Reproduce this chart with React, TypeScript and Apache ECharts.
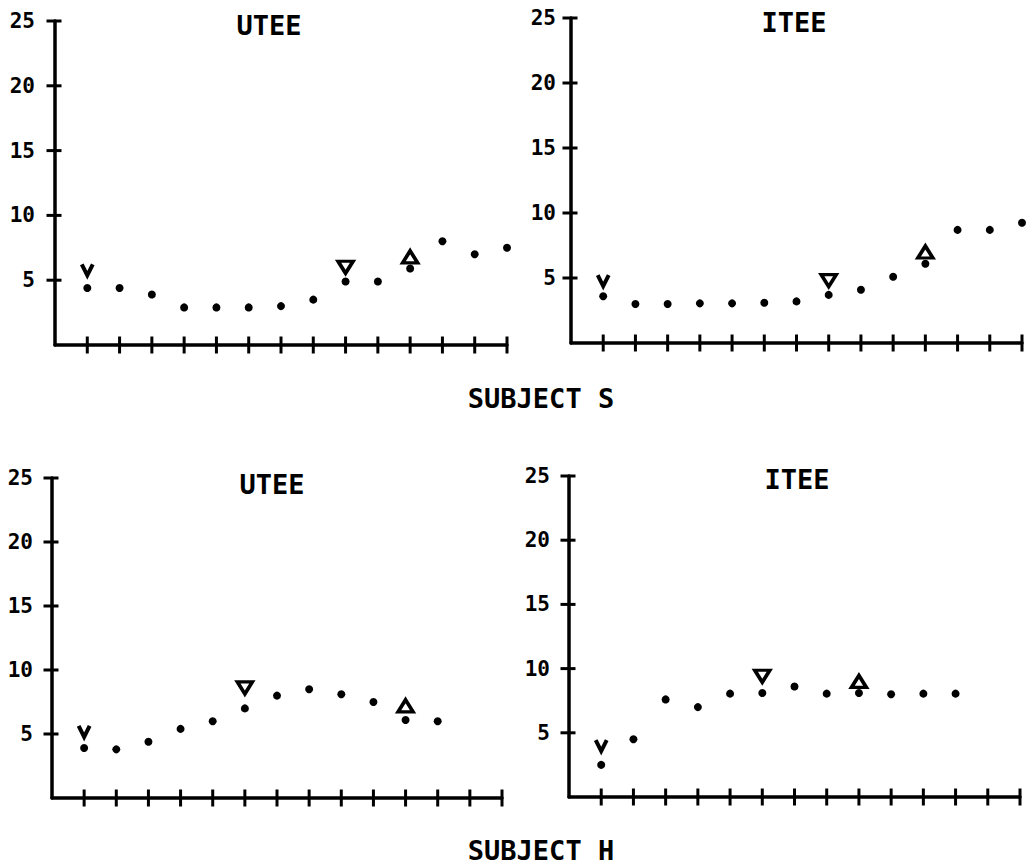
import { useEffect, useRef } from 'react';
import * as echarts from 'echarts';

// ---- data ----
const trialTicks = [1, 2, 3, 4, 5, 6, 7, 8, 9, 10, 11, 12, 13, 14];
const yTickValues = [5, 10, 15, 20, 25];
const panelTitles = ['UTEE', 'ITEE', 'UTEE', 'ITEE'];
const subjectLabels = ['SUBJECT S', 'SUBJECT H'];

// Subject S
const sUteeDots = [4.4, 4.4, 3.9, 2.9, 2.9, 2.9, 3.0, 3.5, 4.9, 4.9, 5.9, 8.0, 7.0, 7.5];
const sUteeV = [[1, 5.8]];
const sUteeDown = [[9, 6.0]];
const sUteeUp = [[11, 6.8]];

const sIteeDots = [3.6, 3.0, 3.0, 3.05, 3.05, 3.1, 3.2, 3.7, 4.1, 5.1, 6.1, 8.7, 8.7, 9.25];
const sIteeV = [[1, 4.8]];
const sIteeDown = [[8, 4.8]];
const sIteeUp = [[11, 7.0]];

// Subject H
const hUteeDots = [3.9, 3.8, 4.4, 5.4, 6.0, 7.0, 8.0, 8.5, 8.1, 7.5, 6.1, 6.0];
const hUteeV = [[1, 5.2]];
const hUteeDown = [[6, 8.6]];
const hUteeUp = [[11, 7.2]];

const hIteeDots = [2.5, 4.5, 7.6, 7.0, 8.05, 8.1, 8.6, 8.05, 8.1, 8.0, 8.05, 8.05];
const hIteeV = [[1, 4.0]];
const hIteeDown = [[6, 9.4]];
const hIteeUp = [[9, 9.0]];

const panels = [
  { dots: sUteeDots, v: sUteeV, down: sUteeDown, up: sUteeUp },
  { dots: sIteeDots, v: sIteeV, down: sIteeDown, up: sIteeUp },
  { dots: hUteeDots, v: hUteeV, down: hUteeDown, up: hUteeUp },
  { dots: hIteeDots, v: hIteeV, down: hIteeDown, up: hIteeUp },
];

// ---- layout ----
const grids = [
  { left: 55, top: 21, width: 452, height: 324, labelMargin: 20 },
  { left: 571, top: 18, width: 451, height: 325, labelMargin: 15 },
  { left: 52, top: 478, width: 450, height: 320, labelMargin: 19 },
  { left: 569, top: 476, width: 451, height: 321, labelMargin: 19 },
];
const titlePos = [
  [269, 25],
  [794, 22],
  [272, 484],
  [797, 479],
];
const subjectPos = [
  [541, 398],
  [541, 850],
];

const FONT = "'DejaVu Sans Mono', 'Liberation Mono', monospace";
const INK = '#000';

export default function App() {
  const ref = useRef<HTMLDivElement>(null);
  useEffect(() => {
    if (!ref.current) return;
    const chart = echarts.init(ref.current, null, { renderer: 'svg' });
    const xAxis: any[] = [];
    const yAxis: any[] = [];
    const series: any[] = [];
    grids.forEach((g, i) => {
      const lineStyle = { color: INK, width: 3.5, opacity: 1 };
      xAxis.push({
        type: 'value', gridIndex: i, position: 'bottom', min: 0, max: 14, interval: 1,
        axisLine: { show: true, onZero: false, lineStyle },
        axisTick: { show: false },
        axisLabel: { show: false },
        splitLine: { show: false },
      });
      yAxis.push({
        type: 'value', gridIndex: i, position: 'left', min: 0, max: 25, interval: 5,
        axisLine: { show: true, onZero: false, lineStyle },
        axisTick: { show: false },
        axisLabel: {
          show: true, customValues: yTickValues, margin: g.labelMargin,
          color: INK, fontFamily: FONT, fontWeight: 'bold', fontSize: 21,
        },
        splitLine: { show: false },
      });
      const p = panels[i];
      const axisRef = { xAxisIndex: i, yAxisIndex: i };
      // crossing tick marks on the x axis
      series.push({
        type: 'scatter', ...axisRef, name: 'xticks', clip: false, silent: true,
        data: trialTicks.map((t) => [t, 0]),
        symbol: 'rect', symbolSize: [3, 17],
        itemStyle: { color: INK, opacity: 1 },
        z: 3,
      });
      // crossing tick marks on the y axis
      series.push({
        type: 'scatter', ...axisRef, name: 'yticks', clip: false, silent: true,
        data: yTickValues.map((t) => [0, t]),
        symbol: 'rect', symbolSize: [15, 3], symbolOffset: [-1, 0],
        itemStyle: { color: INK, opacity: 1 },
        z: 3,
      });
      series.push({
        type: 'scatter', ...axisRef, name: 'trials', clip: false,
        data: p.dots.map((v, k) => [k + 1, v]),
        symbol: 'circle', symbolSize: 8,
        itemStyle: { color: INK, opacity: 1 },
      });
      series.push({
        type: 'scatter', ...axisRef, name: 'v', clip: false,
        data: p.v,
        symbol: 'path://M0,0L5,10L10,0', symbolSize: [11, 11],
        itemStyle: { color: 'none', borderColor: INK, borderWidth: 4, opacity: 1 },
      });
      series.push({
        type: 'scatter', ...axisRef, name: 'down', clip: false,
        data: p.down,
        symbol: 'triangle', symbolRotate: 180, symbolSize: [15, 12],
        itemStyle: { color: '#fff', borderColor: INK, borderWidth: 3.5, opacity: 1 },
      });
      series.push({
        type: 'scatter', ...axisRef, name: 'up', clip: false,
        data: p.up,
        symbol: 'triangle', symbolSize: [15, 12],
        itemStyle: { color: '#fff', borderColor: INK, borderWidth: 3.5, opacity: 1 },
      });
    });

    const graphic: any[] = [];
    panelTitles.forEach((t, i) => {
      graphic.push({
        type: 'text', x: titlePos[i][0], y: titlePos[i][1],
        style: {
          text: t, fill: INK, font: `bold 27px ${FONT}`,
          textAlign: 'center', textVerticalAlign: 'middle',
        },
      });
    });
    subjectLabels.forEach((t, i) => {
      graphic.push({
        type: 'text', x: subjectPos[i][0], y: subjectPos[i][1],
        style: {
          text: t, fill: INK, font: `bold 27px ${FONT}`,
          textAlign: 'center', textVerticalAlign: 'middle',
        },
      });
    });

    chart.setOption({
      animation: false,
      backgroundColor: '#fff',
      grid: grids.map((g) => ({ left: g.left, top: g.top, width: g.width, height: g.height, containLabel: false })),
      xAxis,
      yAxis,
      series,
      graphic,
    });
    return () => chart.dispose();
  }, []);
  return (
    <div
      ref={ref}
      style={{ position: 'fixed', left: 0, top: 0, width: 1033, height: 866, background: '#fff' }}
    />
  );
}
